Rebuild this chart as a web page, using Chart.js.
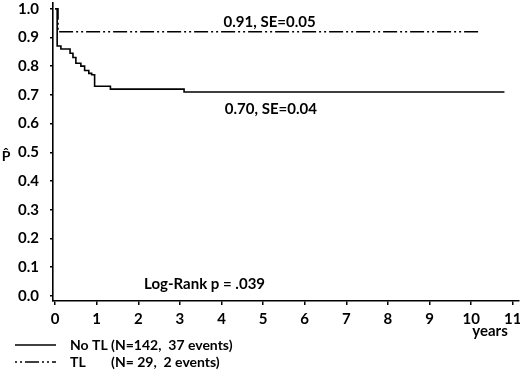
<!DOCTYPE html>
<html>
<head>
<meta charset="utf-8">
<script src="https://cdn.jsdelivr.net/npm/chart.js@4"></script>
<style>
  html, body { margin: 0; padding: 0; background: #fff; }
  #wrap { width: 520px; height: 374px; position: relative; }
</style>
</head>
<body>
<div id="wrap"><canvas id="km"></canvas></div>
<script>
// Kaplan-Meier curves, values
const noTlYears = [0, 0.05, 0.14, 0.36, 0.43, 0.5, 0.62, 0.71, 0.81, 0.88, 0.95, 1.33, 3.1, 10.8];
const noTlSurv  = [1.0, 0.87, 0.86, 0.845, 0.83, 0.81, 0.80, 0.785, 0.775, 0.77, 0.73, 0.72, 0.71, 0.71];
const tlYears = [0, 0.07, 10.2];
const tlSurv  = [1.0, 0.92, 0.92];

const xTicks = [0, 1, 2, 3, 4, 5, 6, 7, 8, 9, 10, 11];
const yTicks = [0, 0.1, 0.2, 0.3, 0.4, 0.5, 0.6, 0.7, 0.8, 0.9, 1.0];

const legendLabels = ['No TL', 'TL'];
const legendCounts = ['(N=142,  37 events)', '(N= 29,  2 events)'];

// text notes placed in data coordinates
const notes = [
  {text: '0.91, SE=0.05', x: 4.05, y: 0.955},
  {text: '0.70, SE=0.04', x: 4.08, y: 0.65},
  {text: 'Log-Rank p = .039', x: 2.14, y: 0.04}
];

const FONT = 'Lato, Calibri, sans-serif';
const tlDash = [14, 3, 2, 3, 2, 3];

function toPoints(xs, ys) {
  return xs.map((x, i) => ({x: x, y: ys[i]}));
}

const extras = {
  id: 'extras',
  afterDraw(chart) {
    const ctx = chart.ctx;
    const xs = chart.scales.x, ys = chart.scales.y;
    ctx.save();
    ctx.fillStyle = '#000';
    ctx.font = 'bold 15px ' + FONT;
    ctx.textBaseline = 'middle';
    ctx.textAlign = 'left';
    notes.forEach(n => {
      ctx.fillText(n.text, xs.getPixelForValue(n.x), ys.getPixelForValue(n.y));
    });

    // axis title for y
    ctx.font = 'bold 14px ' + FONT;
    ctx.textAlign = 'center';
    ctx.fillText('P\u0302', 6, 156);

    // "years" under the last tick
    ctx.font = 'bold 15px ' + FONT;
    ctx.fillText('years', 490, 331);

    // legend
    const rows = [345, 362];
    ctx.textAlign = 'left';
    ctx.font = 'bold 14px ' + FONT;
    const countX = 70 + ctx.measureText(legendLabels[0] + ' ').width;
    rows.forEach((ry, i) => {
      ctx.beginPath();
      ctx.lineWidth = 1.5;
      ctx.strokeStyle = '#000';
      ctx.setLineDash(i === 0 ? [] : [2, 3, 2, 3, 14, 3]);
      ctx.moveTo(15, ry);
      ctx.lineTo(56, ry);
      ctx.stroke();
      ctx.setLineDash([]);
      ctx.fillText(legendLabels[i], 70, ry);
      ctx.fillText(legendCounts[i], countX, ry);
    });
    ctx.restore();
  }
};

new Chart(document.getElementById('km'), {
  type: 'line',
  data: {
    datasets: [{
      label: legendLabels[0],
      data: toPoints(noTlYears, noTlSurv),
      borderColor: '#000',
      borderWidth: 1.6,
      stepped: 'before',
      pointRadius: 0,
      fill: false
    }, {
      label: legendLabels[1],
      data: toPoints(tlYears, tlSurv),
      borderColor: '#000',
      borderWidth: 1.6,
      borderDash: tlDash,
      stepped: 'before',
      pointRadius: 0,
      fill: false
    }]
  },
  options: {
    responsive: true,
    maintainAspectRatio: false,
    animation: false,
    layout: {padding: {top: 3, right: 1, left: 0, bottom: 0}},
    plugins: {legend: {display: false}, tooltip: {enabled: false}},
    scales: {
      x: {
        type: 'linear',
        min: -0.05,
        max: 11.15,
        afterBuildTicks: s => { s.ticks = xTicks.map(v => ({value: v})); },
        afterFit: s => { s.height = 73; s.paddingLeft = 0; s.paddingRight = 0; },
        border: {display: true, color: '#000', width: 1.6},
        grid: {drawOnChartArea: false, color: '#000', tickLength: 4, lineWidth: 1.5},
        ticks: {
          color: '#000',
          padding: 5,
          maxRotation: 0,
          autoSkip: false,
          font: {family: FONT, size: 15, weight: 'bold'},
          callback: v => String(v)
        }
      },
      y: {
        min: -0.018,
        max: 1.02,
        afterBuildTicks: s => { s.ticks = yTicks.map(v => ({value: v})); },
        afterFit: s => { s.width = 53; s.paddingTop = 0; s.paddingBottom = 0; },
        border: {display: true, color: '#000', width: 1.6},
        grid: {drawOnChartArea: false, color: '#000', tickLength: 3, lineWidth: 1.5},
        ticks: {
          color: '#000',
          padding: 11,
          autoSkip: false,
          font: {family: FONT, size: 15, weight: 'bold'},
          callback: v => v.toFixed(1)
        }
      }
    }
  },
  plugins: [extras]
});
</script>
</body>
</html>
